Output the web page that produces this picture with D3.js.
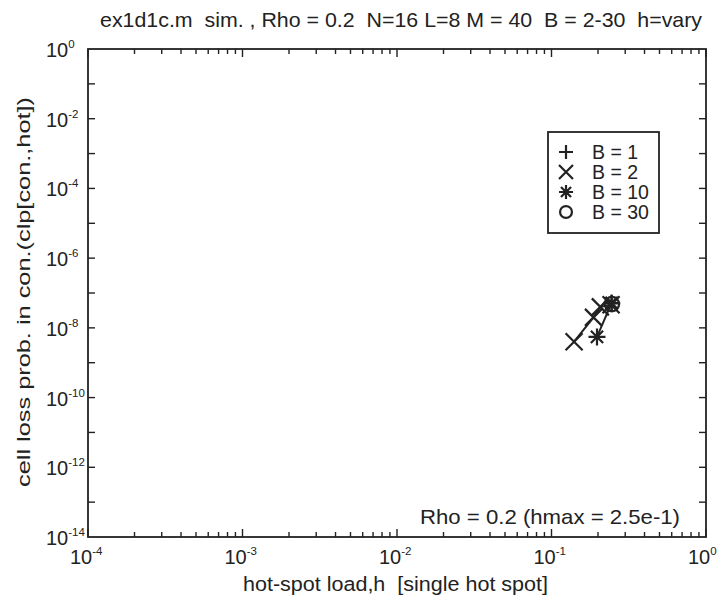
<!DOCTYPE html>
<html><head><meta charset="utf-8">
<script src="https://cdn.jsdelivr.net/npm/d3@7"></script>
<style>body{margin:0;background:#fff;} text{font-family:"Liberation Sans",Arial,sans-serif;fill:#222;white-space:pre;}</style>
</head><body><svg id="c" width="719" height="604"></svg>
<script>
const seriesNames = ["B = 1", "B = 2", "B = 10", "B = 30"];
const seriesSymbols = ["plus", "x", "star", "circle"];
const hB1 = [0.245];
const pB1 = [5.0e-8];
const hB2 = [0.14, 0.187, 0.207, 0.243];
const pB2 = [4.0e-9, 2.0e-8, 4.0e-8, 4.6e-8];
const hB10 = [0.197, 0.245];
const pB10 = [5.5e-9, 5.2e-8];
const hB30 = [0.246];
const pB30 = [4.8e-8];
const xTicks = [1e-4, 1e-3, 1e-2, 1e-1, 1];
const xTickExp = ["-4", "-3", "-2", "-1", "0"];
const yTicks = [1, 1e-2, 1e-4, 1e-6, 1e-8, 1e-10, 1e-12, 1e-14];
const yTickExp = ["0", "-2", "-4", "-6", "-8", "-10", "-12", "-14"];
const titleText = "ex1d1c.m  sim. , Rho = 0.2  N=16 L=8 M = 40  B = 2-30  h=vary";
const xLabel = "hot-spot load,h  [single hot spot]";
const yLabel = "cell loss prob. in con.(clp[con.,hot])";
const noteText = "Rho = 0.2 (hmax = 2.5e-1)";

const series = [
  {h: hB1, p: pB1}, {h: hB2, p: pB2}, {h: hB10, p: pB10}, {h: hB30, p: pB30}
];

const svg = d3.select("#c");
const L = 88, R = 706, T = 49, B = 537;
const x = d3.scaleLog().domain([1e-4, 1]).range([L, R]);
const y = d3.scaleLog().domain([1e-14, 1]).range([B, T]);
const ink = "#222";

// frame
svg.append("rect").attr("x", L).attr("y", T).attr("width", R - L).attr("height", B - T)
  .attr("fill", "none").attr("stroke", ink).attr("stroke-width", 1.8);

// x ticks (top & bottom)
const xMinor = [];
for (let e = -4; e < 0; e++) for (let m = 2; m <= 9; m++) xMinor.push(m * Math.pow(10, e));
const tickG = svg.append("g").attr("stroke", ink).attr("stroke-width", 1.4);
xTicks.forEach(v => {
  tickG.append("line").attr("x1", x(v)).attr("x2", x(v)).attr("y1", B).attr("y2", B - 8);
  tickG.append("line").attr("x1", x(v)).attr("x2", x(v)).attr("y1", T).attr("y2", T + 8);
});
xMinor.forEach(v => {
  tickG.append("line").attr("x1", x(v)).attr("x2", x(v)).attr("y1", B).attr("y2", B - 5);
  tickG.append("line").attr("x1", x(v)).attr("x2", x(v)).attr("y1", T).attr("y2", T + 5);
});
// y ticks every decade
for (let e = -13; e <= -1; e++) {
  const v = Math.pow(10, e);
  tickG.append("line").attr("x1", L).attr("x2", L + 7).attr("y1", y(v)).attr("y2", y(v));
  tickG.append("line").attr("x1", R).attr("x2", R - 7).attr("y1", y(v)).attr("y2", y(v));
}

// x tick labels
xTicks.forEach((v, i) => {
  const t = svg.append("text").attr("x", x(v) - 18).attr("y", 564).attr("font-size", 20);
  t.append("tspan").text("10");
  t.append("tspan").attr("dy", -9).attr("font-size", 11.5).text(xTickExp[i]);
});
// y tick labels
yTicks.forEach((v, i) => {
  const t = svg.append("text").attr("x", 46).attr("y", y(v) + 8).attr("font-size", 20);
  t.append("tspan").text("10");
  t.append("tspan").attr("dy", -9).attr("font-size", 11.5).text(yTickExp[i]);
});

// titles
svg.append("text").attr("x", 100).attr("y", 27).attr("font-size", 21)
  .attr("textLength", 602).attr("lengthAdjust", "spacingAndGlyphs").text(titleText);
svg.append("text").attr("x", 243).attr("y", 591).attr("font-size", 20.5)
  .attr("textLength", 305).attr("lengthAdjust", "spacingAndGlyphs").text(xLabel);
svg.append("text").attr("transform", "translate(30,487) rotate(-90)")
  .attr("font-size", 19).attr("textLength", 390).attr("lengthAdjust", "spacingAndGlyphs").text(yLabel);
svg.append("text").attr("x", 420).attr("y", 524).attr("font-size", 21)
  .attr("textLength", 260).attr("lengthAdjust", "spacingAndGlyphs").text(noteText);

// marker paths
function markerPath(kind, s) {
  const d = s * 0.72;
  switch (kind) {
    case "plus": return `M${-s},0H${s}M0,${-s}V${s}`;
    case "x": return `M${-s},${-s}L${s},${s}M${-s},${s}L${s},${-s}`;
    case "star": return `M${-s},0H${s}M0,${-s}V${s}M${-d},${-d}L${d},${d}M${-d},${d}L${d},${-d}`;
    default: return null;
  }
}
function drawMarker(g, kind, cx, cy, s) {
  if (kind === "circle") {
    g.append("circle").attr("cx", cx).attr("cy", cy).attr("r", s * 0.85)
      .attr("fill", "none").attr("stroke", ink).attr("stroke-width", 2.2);
  } else {
    g.append("path").attr("transform", `translate(${cx},${cy})`).attr("d", markerPath(kind, s))
      .attr("fill", "none").attr("stroke", ink).attr("stroke-width", 2.2);
  }
}

// lines and markers
const line = d3.line().x(d => x(d[0])).y(d => y(d[1]));
const plotG = svg.append("g");
series.forEach((s, i) => {
  const pts = s.h.map((h, j) => [h, s.p[j]]);
  if (pts.length > 1) plotG.append("path").attr("d", line(pts)).attr("fill", "none")
    .attr("stroke", ink).attr("stroke-width", 2);
  pts.forEach(p => drawMarker(plotG, seriesSymbols[i], x(p[0]), y(p[1]), 8.5));
});

// legend
const lg = svg.append("g");
lg.append("rect").attr("x", 548).attr("y", 132).attr("width", 111).attr("height", 101)
  .attr("fill", "#fff").attr("stroke", ink).attr("stroke-width", 1.8);
seriesNames.forEach((n, i) => {
  const cy = 152 + i * 20;
  drawMarker(lg, seriesSymbols[i], 566, cy, 7);
  lg.append("text").attr("x", 592).attr("y", cy + 7).attr("font-size", 19.5).text(n);
});
</script></body></html>
